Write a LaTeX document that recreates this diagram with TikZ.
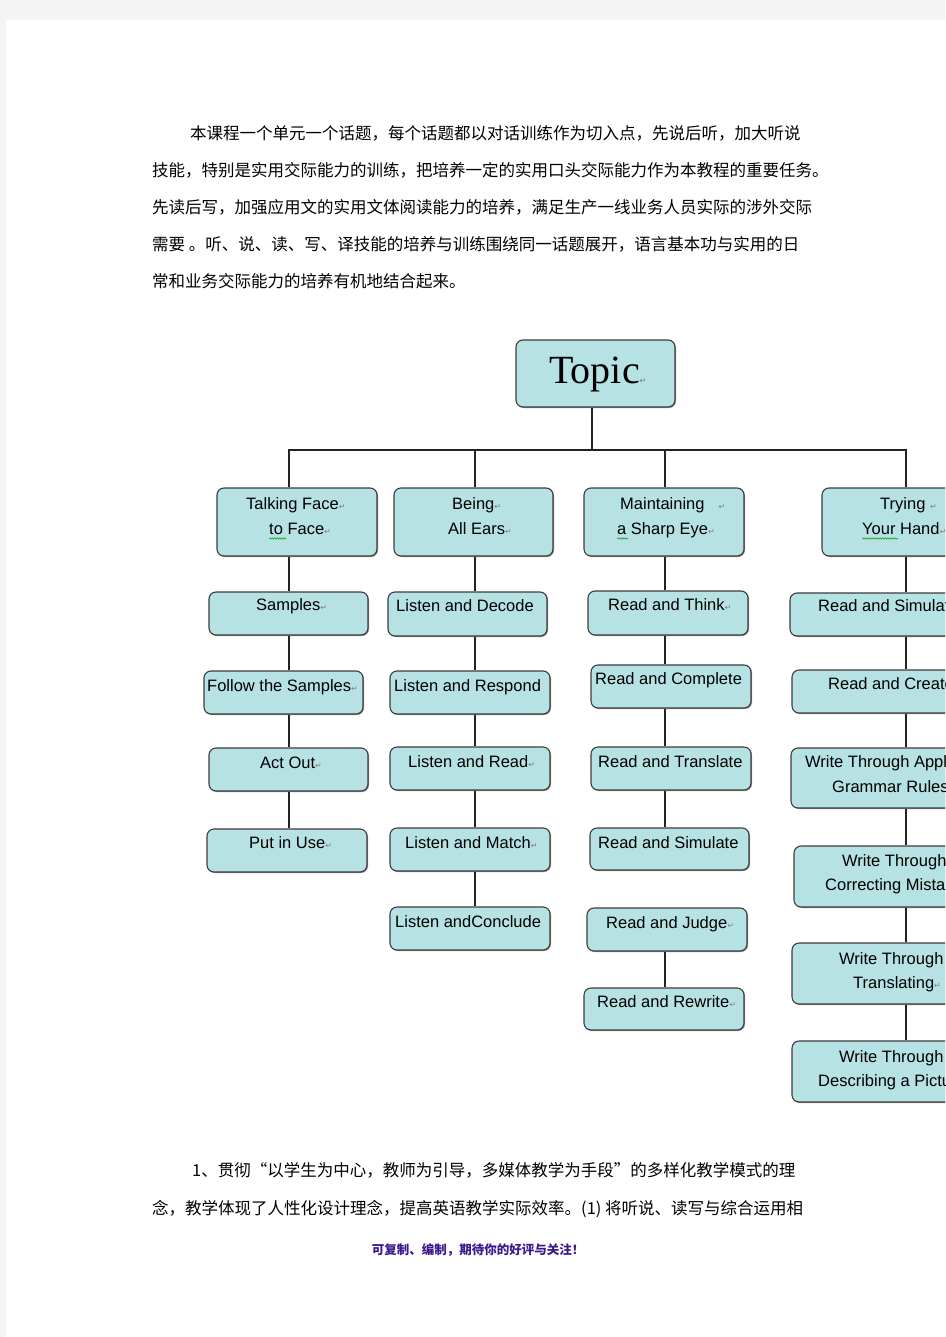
\documentclass[tikz,border=0pt]{standalone}
\usepackage{fontspec}
\newfontfamily\cjk{Noto Sans CJK SC}
\newfontfamily\arialf{Liberation Sans}
\newfontfamily\seriff{Liberation Serif}
\newfontfamily\djv{DejaVu Sans}
\usetikzlibrary{shadows,decorations.pathmorphing}
\definecolor{boxfill}{RGB}{182,226,228}
\definecolor{boxline}{RGB}{60,60,60}
\definecolor{lineclr}{RGB}{35,35,35}
\definecolor{pagegray}{RGB}{244,244,244}
\definecolor{footclr}{RGB}{60,25,140}
\definecolor{wavy}{RGB}{40,160,40}
\newcommand\retm{{\djv\fontsize{8}{8}\selectfont\textcolor{gray}{↵}}}
\begin{document}
\begin{tikzpicture}[x=1pt,y=-1pt,
 box/.style={draw=boxline, fill=boxfill, rounded corners=7pt, line width=1.1pt, inner sep=0pt,
   drop shadow={shadow xshift=1pt, shadow yshift=-1pt, fill=black!55, opacity=0.8}},
 lbl/.style={font=\arialf\fontsize{16.5}{18}\selectfont, inner sep=0pt, anchor=west, text height=12pt, text depth=3pt},
 body/.style={font=\cjk\fontsize{16.5}{18}\selectfont, inner sep=0pt, anchor=west, text height=14.4pt, text depth=2pt},
 conn/.style={draw=lineclr, line width=1.8pt},
 wv/.style={draw=wavy, line width=0.6pt, decorate, decoration={snake, amplitude=0.7pt, segment length=2.5pt}}
]
\useasboundingbox (0,0) rectangle (945,1337);
\clip (0,0) rectangle (945,1337);
\fill[pagegray] (0,0) rectangle (945,1337);
\fill[white] (6,20) rectangle (945,1337);

% body text
\node[body] (p1) at (190,133) {本课程一个单元一个话题，每个话题都以对话训练作为切入点，先说后听，加大听说};
\node[body] (p2) at (152,170) {技能，特别是实用交际能力的训练，把培养一定的实用口头交际能力作为本教程的重要任务。};
\node[body] (p3) at (152,207) {先读后写，加强应用文的实用文体阅读能力的培养，满足生产一线业务人员实际的涉外交际};
\node[body] (p4) at (152,244) {需要 。听、说、读、写、译技能的培养与训练围绕同一话题展开，语言基本功与实用的日};
\node[body] (p5) at (152,281) {常和业务交际能力的培养有机地结合起来。};

% boxes
\node[box, minimum width=159pt, minimum height=67pt] (T) at (595.5,373.5) {};
\node[box, minimum width=160pt, minimum height=68pt] (A1) at (297,522) {};
\node[box, minimum width=159pt, minimum height=43pt] (A2) at (288.5,613.5) {};
\node[box, minimum width=159pt, minimum height=43pt] (A3) at (283.5,692.5) {};
\node[box, minimum width=159pt, minimum height=43pt] (A4) at (288.5,769.5) {};
\node[box, minimum width=160pt, minimum height=43pt] (A5) at (287,850.5) {};
\node[box, minimum width=159pt, minimum height=68pt] (B1) at (473.5,522) {};
\node[box, minimum width=159pt, minimum height=44pt] (B2) at (467.5,614) {};
\node[box, minimum width=160pt, minimum height=43pt] (B3) at (470,692.5) {};
\node[box, minimum width=160pt, minimum height=43pt] (B4) at (470,768.5) {};
\node[box, minimum width=160pt, minimum height=43pt] (B5) at (470,849.5) {};
\node[box, minimum width=160pt, minimum height=43pt] (B6) at (470,928.5) {};
\node[box, minimum width=160pt, minimum height=68pt] (C1) at (664,522) {};
\node[box, minimum width=160pt, minimum height=44pt] (C2) at (668,613) {};
\node[box, minimum width=160pt, minimum height=43pt] (C3) at (671,686.5) {};
\node[box, minimum width=160pt, minimum height=43pt] (C4) at (671,768.5) {};
\node[box, minimum width=159pt, minimum height=42pt] (C5) at (669.5,849) {};
\node[box, minimum width=160pt, minimum height=43pt] (C6) at (667,929.5) {};
\node[box, minimum width=160pt, minimum height=42pt] (C7) at (664,1009) {};
\node[box, minimum width=168pt, minimum height=68pt] (D1) at (906,522) {};
\node[box, minimum width=200pt, minimum height=43pt] (D2) at (890,614.5) {};
\node[box, minimum width=198pt, minimum height=43pt] (D3) at (891,691.5) {};
\node[box, minimum width=199pt, minimum height=60pt] (D4) at (890.5,778) {};
\node[box, minimum width=194pt, minimum height=61pt] (D5) at (891,876.5) {};
\node[box, minimum width=198pt, minimum height=61pt] (D6) at (891,973.5) {};
\node[box, minimum width=198pt, minimum height=61pt] (D7) at (891,1071.5) {};

% connectors
\coordinate (bar) at (592,450);
\coordinate (xt) at (592,0);
\coordinate (xa) at (289,0);
\coordinate (xb) at (475,0);
\coordinate (xc) at (665,0);
\coordinate (xd) at (906,0);
\draw[conn] (T.south -| xt) -- (bar);
\draw[conn] (A1.north -| xa) -- (xa |- bar) -- (xd |- bar) -- (D1.north -| xd);
\draw[conn] (B1.north -| xb) -- (xb |- bar);
\draw[conn] (C1.north -| xc) -- (xc |- bar);
\foreach \u/\v in {A1/A2,A2/A3,A3/A4,A4/A5}
  \draw[conn] (\u.south -| xa) -- (\v.north -| xa);
\foreach \u/\v in {B1/B2,B2/B3,B3/B4,B4/B5,B5/B6}
  \draw[conn] (\u.south -| xb) -- (\v.north -| xb);
\foreach \u/\v in {C1/C2,C2/C3,C3/C4,C4/C5,C6/C7}
  \draw[conn] (\u.south -| xc) -- (\v.north -| xc);
\foreach \u/\v in {D1/D2,D2/D3,D3/D4,D4/D5,D5/D6,D6/D7}
  \draw[conn] (\u.south -| xd) -- (\v.north -| xd);

% labels
\node[font=\seriff\fontsize{40}{40}\selectfont, anchor=base west, inner sep=0pt] (tT) at (549,383) {Topic\retm};
\node[lbl] (tA1a) at (246,505) {Talking Face\retm};
\node[lbl] (tA1b) at (269,530) {to Face\retm};
\node[lbl] (tA2) at (256,606) {Samples\retm};
\node[lbl] (tA3) at (207,687) {Follow the Samples\retm};
\node[lbl] (tA4) at (260,764) {Act Out\retm};
\node[lbl] (tA5) at (249,844) {Put in Use\retm};
\node[lbl] (tB1a) at (452,505) {Being\retm};
\node[lbl] (tB1b) at (448,530) {All Ears\retm};
\node[lbl] (tB2) at (396,607) {Listen and Decode};
\node[lbl] (tB3) at (394,687) {Listen and Respond};
\node[lbl] (tB4) at (408,763) {Listen and Read\retm};
\node[lbl] (tB5) at (405,844) {Listen and Match\retm};
\node[lbl] (tB6) at (395,923) {Listen andConclude};
\node[lbl] (tC1a) at (620,505) {Maintaining\hspace{14pt}\retm};
\node[lbl] (tC1b) at (617,530) {a Sharp Eye\retm};
\node[lbl] (tC2) at (608,606) {Read and Think\retm};
\node[lbl] (tC3) at (595,680) {Read and Complete};
\node[lbl] (tC4) at (598,763) {Read and Translate};
\node[lbl] (tC5) at (598,844) {Read and Simulate};
\node[lbl] (tC6) at (606,924) {Read and Judge\retm};
\node[lbl] (tC7) at (597,1003) {Read and Rewrite\retm};
\node[lbl] (tD1a) at (880,505) {Trying \retm};
\node[lbl] (tD1b) at (862,530) {Your Hand\retm};
\node[lbl] (tD2) at (818,607) {Read and Simulate};
\node[lbl] (tD3) at (828,685) {Read and Create};
\node[lbl] (tD4a) at (805,763) {Write Through Applying};
\node[lbl] (tD4b) at (832,788) {Grammar Rules};
\node[lbl] (tD5a) at (842,862) {Write Through};
\node[lbl] (tD5b) at (825,886) {Correcting Mistakes};
\node[lbl] (tD6a) at (839,960) {Write Through};
\node[lbl] (tD6b) at (853,984) {Translating\retm};
\node[lbl] (tD7a) at (839,1058) {Write Through};
\node[lbl] (tD7b) at (818,1082) {Describing a Picture};

% spell-check underlines
\draw[wv] (269,538.5) -- (286,538.5);
\draw[wv] (617,538.5) -- (628,538.5);
\draw[wv] (862,538.5) -- (898,538.5);

% bottom text
\node[body] (q1) at (192,1170) {1、贯彻“以学生为中心，教师为引导，多媒体教学为手段”的多样化教学模式的理};
\node[body] (q2) at (152,1208) {念，教学体现了人性化设计理念，提高英语教学实际效率。(1) 将听说、读写与综合运用相};
\node[font=\cjk\bfseries\fontsize{12.5}{12.5}\selectfont, text=footclr, inner sep=0pt] (ft) at (478,1250) {可复制、编制，期待你的好评与关注！};
\end{tikzpicture}
\end{document}
